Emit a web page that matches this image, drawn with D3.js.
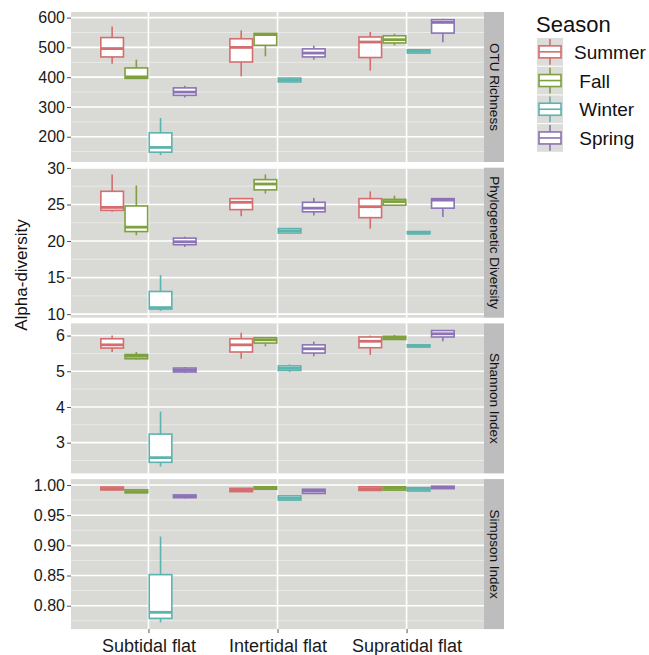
<!DOCTYPE html>
<html>
<head>
<meta charset="utf-8">
<script src="https://cdn.jsdelivr.net/npm/d3@7"></script>
<style>
  body { margin: 0; background: #fff; }
  svg { font-family: "Liberation Sans", Arial, sans-serif; }
</style>
</head>
<body>
<svg id="chart" width="649" height="655"></svg>
<script>
// categories
const sites = ["Subtidal flat", "Intertidal flat", "Supratidal flat"]
const seasons = ["Summer", "Fall", "Winter", "Spring"]
const seasonLabels = ["Summer", " Fall", " Winter", " Spring"]
const seasonColors = ["#D46E6E", "#7EA03E", "#5DB3AD", "#8C73B5"]
const metrics = ["OTU Richness", "Phylogenetic Diversity", "Shannon Index", "Simpson Index"]

// box stats per site, per season: [lower whisker, Q1, median, Q3, upper whisker]
const otuRichness = [
  [[445, 468, 496, 533, 570], [394, 396, 401, 431, 459], [138, 148, 164, 213, 263], [332, 339, 350, 364, 371]],
  [[403, 451, 500, 529, 557], [470, 507, 543, 547, 548], [382, 384, 390, 397, 399], [459, 468, 481, 495, 506]],
  [[422, 466, 518, 535, 552], [507, 515, 526, 539, 546], [479, 481, 487, 492, 494], [517, 548, 584, 593, 596]]
]
const phyloDiversity = [
  [[24.0, 24.2, 24.6, 26.8, 29.1], [20.8, 21.3, 21.9, 24.8, 27.6], [10.45, 10.7, 10.9, 13.1, 15.35], [19.2, 19.5, 19.9, 20.4, 20.6]],
  [[23.4, 24.3, 25.3, 25.8, 25.9], [26.5, 27.0, 27.8, 28.4, 29.1], [21.0, 21.1, 21.4, 21.7, 21.8], [23.5, 24.0, 24.5, 25.3, 25.9]],
  [[21.7, 23.2, 24.7, 25.8, 26.8], [24.8, 24.9, 25.4, 25.7, 26.2], [20.95, 21.0, 21.1, 21.3, 21.35], [23.3, 24.5, 25.6, 25.8, 25.9]]
]
const shannonIndex = [
  [[5.54, 5.65, 5.74, 5.91, 6.0], [5.33, 5.35, 5.42, 5.47, 5.54], [2.33, 2.45, 2.58, 3.24, 3.87], [4.95, 4.98, 5.03, 5.09, 5.12]],
  [[5.35, 5.54, 5.74, 5.91, 6.08], [5.70, 5.79, 5.88, 5.94, 5.95], [4.98, 5.02, 5.08, 5.15, 5.19], [5.42, 5.51, 5.63, 5.74, 5.83]],
  [[5.46, 5.66, 5.84, 5.96, 6.0], [5.88, 5.89, 5.94, 5.98, 6.02], [5.67, 5.68, 5.71, 5.74, 5.75], [5.84, 5.96, 6.05, 6.14, 6.15]]
]
const simpsonIndex = [
  [[0.991, 0.9918, 0.994, 0.9967, 0.997], [0.986, 0.987, 0.989, 0.992, 0.9925], [0.7725, 0.779, 0.789, 0.8515, 0.9145], [0.978, 0.979, 0.981, 0.9836, 0.984]],
  [[0.9885, 0.989, 0.992, 0.9945, 0.995], [0.9925, 0.993, 0.995, 0.997, 0.9975], [0.974, 0.975, 0.978, 0.982, 0.983], [0.985, 0.986, 0.990, 0.993, 0.9935]],
  [[0.990, 0.991, 0.994, 0.997, 0.9975], [0.991, 0.9915, 0.9945, 0.997, 0.9975], [0.9895, 0.990, 0.993, 0.9956, 0.996], [0.9935, 0.994, 0.996, 0.998, 0.9985]]
]

// tick values
const otuTicks = [200, 300, 400, 500, 600]
const pdTicks = [10, 15, 20, 25, 30]
const shannonTicks = [3, 4, 5, 6]
const simpsonTicks = [0.80, 0.85, 0.90, 0.95, 1.00]

const panelData = [otuRichness, phyloDiversity, shannonIndex, simpsonIndex]
const panelTicks = [otuTicks, pdTicks, shannonTicks, simpsonTicks]
const panelFormats = [d3.format("d"), d3.format("d"), d3.format("d"), d3.format(".2f")]

//layout
const plotLeft = 71, plotRight = 484
const panelTop = 12, panelStep = 155.7, panelHeight = 150
const stripWidth = 20

const svg = d3.select("#chart")

//x scales: sites then dodge seasons inside each site
const xSite = d3.scalePoint().domain(sites).range([plotLeft, plotRight]).padding(0.6)
const step = xSite.step()
const xSeason = d3.scaleBand().domain(seasons).range([-step * 0.375, step * 0.375])

panelData.forEach((data, p) => {
  const top = panelTop + p * panelStep
  const bottom = top + panelHeight

  //y scale with 5% expansion like ggplot
  const all = data.flat(2)
  const lo = d3.min(all), hi = d3.max(all)
  const pad = (hi - lo) * 0.05
  const y = d3.scaleLinear().domain([lo - pad, hi + pad]).range([bottom, top])

  const g = svg.append("g")

  //panel background
  g.append("rect")
    .attr("x", plotLeft).attr("y", top)
    .attr("width", plotRight - plotLeft).attr("height", panelHeight)
    .attr("fill", "#D9D9D6")

  //minor grid
  const ticks = panelTicks[p]
  const half = (ticks[1] - ticks[0]) / 2
  const minor = [ticks[0] - half].concat(ticks.map(t => t + half))
    .filter(v => v > y.domain()[0] && v < y.domain()[1])
  g.selectAll("line.minor").data(minor).enter().append("line")
    .attr("x1", plotLeft).attr("x2", plotRight)
    .attr("y1", d => y(d)).attr("y2", d => y(d))
    .attr("stroke", "#EDEDEB").attr("stroke-width", 0.8)

  //major grid
  g.selectAll("line.major").data(ticks).enter().append("line")
    .attr("x1", plotLeft).attr("x2", plotRight)
    .attr("y1", d => y(d)).attr("y2", d => y(d))
    .attr("stroke", "#fff").attr("stroke-width", 1.6)

  g.selectAll("line.vgrid").data(sites).enter().append("line")
    .attr("x1", d => xSite(d)).attr("x2", d => xSite(d))
    .attr("y1", top).attr("y2", bottom)
    .attr("stroke", "#fff").attr("stroke-width", 1.6)

  //y axis
  const yAxis = d3.axisLeft(y).tickValues(ticks).tickFormat(panelFormats[p]).tickSize(4).tickPadding(2)
  const ax = g.append("g").attr("transform", `translate(${plotLeft},0)`).call(yAxis)
  ax.select(".domain").remove()
  ax.selectAll(".tick line").attr("stroke", "#555")
  ax.selectAll(".tick text").attr("font-size", 16).attr("fill", "#1a1a1a")
    .attr("font-family", "Liberation Sans, Arial, sans-serif")

  //strip
  g.append("rect")
    .attr("x", plotRight).attr("y", top)
    .attr("width", stripWidth).attr("height", panelHeight)
    .attr("fill", "#BDBDBD")
  g.append("text")
    .attr("transform", `translate(${plotRight + stripWidth / 2},${top + panelHeight / 2}) rotate(90)`)
    .attr("text-anchor", "middle").attr("dominant-baseline", "central")
    .attr("font-size", 13.5).attr("fill", "#111")
    .text(metrics[p])

  //boxes
  const boxes = []
  data.forEach((siteRows, i) => siteRows.forEach((s, j) => boxes.push({ site: sites[i], season: seasons[j], color: seasonColors[j], s: s })))
  const bw = xSeason.bandwidth()
  const bg = g.selectAll("g.box").data(boxes).enter().append("g")
    .attr("transform", d => `translate(${xSite(d.site) + xSeason(d.season)},0)`)

  bg.append("line")
    .attr("x1", bw / 2).attr("x2", bw / 2)
    .attr("y1", d => y(d.s[0])).attr("y2", d => y(d.s[1]))
    .attr("stroke", d => d.color).attr("stroke-width", 1.6)
  bg.append("line")
    .attr("x1", bw / 2).attr("x2", bw / 2)
    .attr("y1", d => y(d.s[3])).attr("y2", d => y(d.s[4]))
    .attr("stroke", d => d.color).attr("stroke-width", 1.6)
  bg.append("rect")
    .attr("x", 0.8).attr("width", bw - 1.6)
    .attr("y", d => y(d.s[3])).attr("height", d => y(d.s[1]) - y(d.s[3]))
    .attr("fill", "#fff")
    .attr("stroke", d => d.color).attr("stroke-width", 1.6)
  bg.append("line")
    .attr("x1", 0.8).attr("x2", bw - 0.8)
    .attr("y1", d => y(d.s[2])).attr("y2", d => y(d.s[2]))
    .attr("stroke", d => d.color).attr("stroke-width", 2.8)

  //x axis on last panel
  if (p === panelData.length - 1) {
    const xAxis = d3.axisBottom(xSite).tickSize(4).tickPadding(6)
    const xa = g.append("g").attr("transform", `translate(0,${bottom})`).call(xAxis)
    xa.select(".domain").remove()
    xa.selectAll(".tick line").attr("stroke", "#555")
    xa.selectAll(".tick text").attr("font-size", 18).attr("fill", "#1a1a1a")
      .attr("font-family", "Liberation Sans, Arial, sans-serif")
  }
})

//y title
svg.append("text")
  .attr("transform", "translate(27,275) rotate(-90)")
  .attr("text-anchor", "middle")
  .attr("font-size", 17).attr("fill", "#111")
  .text("Alpha-diversity")

//legend
const legend = svg.append("g")
legend.append("text")
  .attr("x", 536).attr("y", 32)
  .attr("font-size", 22).attr("fill", "#111")
  .text("Season")

const keyX = 537, keyY = 38, keyW = 26, keyH = 28.7
const keys = legend.selectAll("g.key").data(seasons).enter().append("g")
  .attr("transform", (d, i) => `translate(${keyX},${keyY + i * keyH})`)
keys.append("rect").attr("width", keyW).attr("height", keyH - 1).attr("fill", "#DCDCDA")
keys.append("line")
  .attr("x1", keyW / 2).attr("x2", keyW / 2).attr("y1", 1).attr("y2", keyH - 2)
  .attr("stroke", (d, i) => seasonColors[i]).attr("stroke-width", 1.6)
keys.append("rect")
  .attr("x", 2).attr("y", keyH / 2 - 6.5).attr("width", keyW - 4).attr("height", 12)
  .attr("fill", "#fff").attr("stroke", (d, i) => seasonColors[i]).attr("stroke-width", 1.6)
keys.append("line")
  .attr("x1", 2).attr("x2", keyW - 2).attr("y1", keyH / 2 - 0.5).attr("y2", keyH / 2 - 0.5)
  .attr("stroke", (d, i) => seasonColors[i]).attr("stroke-width", 1.6)
keys.append("text")
  .attr("x", keyW + 11).attr("y", keyH / 2 + 6.5)
  .attr("font-size", 19).attr("fill", "#111")
  .style("white-space", "pre")
  .text((d, i) => seasonLabels[i])
</script>
</body>
</html>
